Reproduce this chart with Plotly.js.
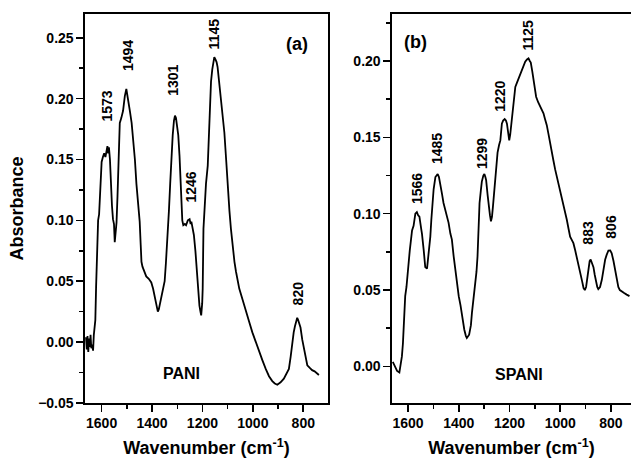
<!DOCTYPE html>
<html>
<head>
<meta charset="utf-8">
<script src="https://cdn.plot.ly/plotly-3.0.1.min.js"></script>
<style>html,body{margin:0;padding:0;background:#fff;}#chart{width:631px;height:465px;}</style>
</head>
<body>
<div id="chart"></div>
<script>
// Panel (a) PANI
const paniWavenumber = [1662,1659,1656,1653,1650,1647,1644,1641,1638,1634,1631,1628,1625,1622,1620,1617,1614,1610,1607,1603,1600,1595,1590,1585,1580,1577,1574,1571,1567,1563,1559,1555,1551,1548,1545,1541,1537,1532,1528,1522,1515,1508,1504,1502,1499,1495,1488,1481,1475,1468,1462,1455,1449,1445,1442,1438,1433,1428,1423,1413,1403,1396,1390,1385,1380,1377,1373,1368,1363,1356,1350,1345,1340,1337,1333,1328,1324,1318,1313,1309,1305,1300,1296,1291,1287,1284,1280,1276,1270,1265,1258,1251,1247,1244,1240,1234,1228,1225,1219,1215,1212,1208,1205,1201,1199,1196,1192,1186,1179,1175,1173,1169,1166,1161,1157,1153,1148,1144,1140,1135,1130,1126,1120,1113,1106,1100,1093,1087,1080,1073,1067,1060,1054,1041,1028,1015,1002,989,975,962,949,936,923,913,903,890,877,867,857,850,844,838,833,828,824,820,816,811,804,798,791,784,775,765,755,745,738];
const paniAbsorbance = [0.004,-0.006,0.005,-0.008,0.003,-0.004,0.006,-0.005,-0.002,-0.007,0.006,0.012,0.018,0.045,0.060,0.090,0.100,0.105,0.118,0.135,0.148,0.152,0.155,0.152,0.158,0.161,0.155,0.160,0.150,0.128,0.112,0.101,0.097,0.082,0.090,0.098,0.120,0.155,0.180,0.184,0.190,0.202,0.205,0.208,0.204,0.197,0.190,0.180,0.167,0.150,0.130,0.112,0.099,0.080,0.066,0.062,0.059,0.056,0.054,0.052,0.049,0.044,0.038,0.032,0.027,0.025,0.027,0.032,0.038,0.044,0.050,0.065,0.080,0.095,0.108,0.130,0.150,0.170,0.182,0.186,0.184,0.178,0.170,0.153,0.135,0.118,0.100,0.096,0.097,0.096,0.100,0.101,0.097,0.099,0.094,0.088,0.075,0.066,0.052,0.040,0.030,0.025,0.022,0.032,0.044,0.093,0.112,0.130,0.145,0.165,0.175,0.195,0.214,0.224,0.228,0.234,0.232,0.230,0.226,0.216,0.208,0.202,0.188,0.172,0.150,0.126,0.108,0.093,0.077,0.066,0.058,0.051,0.044,0.035,0.025,0.017,0.008,0.000,-0.008,-0.015,-0.022,-0.028,-0.032,-0.034,-0.035,-0.033,-0.030,-0.026,-0.022,-0.012,0.000,0.008,0.013,0.018,0.020,0.018,0.016,0.012,0.002,-0.005,-0.013,-0.019,-0.021,-0.023,-0.024,-0.026,-0.027];

// Panel (b) SPANI
const spaniWavenumber = [1660,1652,1643,1634,1628,1624,1620,1617,1611,1606,1601,1593,1584,1578,1571,1565,1560,1555,1548,1545,1538,1532,1525,1519,1512,1508,1499,1492,1483,1478,1473,1466,1460,1453,1446,1440,1433,1427,1420,1414,1407,1400,1393,1387,1378,1372,1368,1359,1352,1348,1341,1335,1330,1326,1322,1318,1313,1309,1303,1299,1295,1292,1286,1282,1277,1273,1269,1265,1260,1256,1251,1247,1241,1236,1230,1225,1219,1214,1210,1205,1201,1197,1194,1187,1182,1177,1170,1164,1157,1151,1144,1138,1131,1125,1120,1116,1110,1105,1095,1087,1079,1066,1060,1053,1046,1040,1033,1027,1020,1013,1006,1000,993,987,980,974,967,961,955,948,941,935,928,921,914,908,903,898,893,889,884,880,875,869,864,859,854,850,843,836,830,823,817,810,803,797,790,784,777,771,765,758,748,738,727];
const spaniAbsorbance = [0.003,0.000,-0.003,-0.004,0.001,0.0065,0.015,0.024,0.046,0.052,0.063,0.076,0.089,0.092,0.100,0.101,0.099,0.098,0.090,0.087,0.076,0.065,0.064,0.072,0.085,0.096,0.116,0.124,0.126,0.124,0.118,0.113,0.107,0.103,0.098,0.094,0.087,0.083,0.072,0.063,0.055,0.046,0.040,0.033,0.024,0.020,0.0186,0.0207,0.027,0.035,0.044,0.052,0.062,0.072,0.089,0.107,0.115,0.121,0.125,0.126,0.124,0.122,0.112,0.105,0.099,0.095,0.098,0.105,0.115,0.124,0.132,0.140,0.145,0.148,0.159,0.161,0.162,0.161,0.159,0.152,0.148,0.152,0.157,0.170,0.177,0.183,0.186,0.1886,0.192,0.195,0.197,0.1995,0.201,0.2017,0.200,0.199,0.193,0.1875,0.1766,0.173,0.170,0.1657,0.162,0.158,0.152,0.146,0.140,0.135,0.129,0.124,0.120,0.1156,0.111,0.107,0.101,0.096,0.090,0.085,0.083,0.0807,0.076,0.072,0.067,0.061,0.056,0.0513,0.050,0.052,0.058,0.065,0.069,0.070,0.068,0.065,0.060,0.0556,0.052,0.0506,0.052,0.0567,0.063,0.0698,0.073,0.0759,0.076,0.074,0.069,0.063,0.057,0.052,0.050,0.049,0.048,0.047,0.046];

// Peak labels
const paniPeakLabels = ["1573","1494","1301","1246","1145","820"];
const paniPeakX = [1580,1495,1315,1249,1153,821];
const paniPeakY = [0.194,0.235,0.215,0.127,0.253,0.040];
const spaniPeakLabels = ["1566","1485","1299","1220","1125","883","806"];
const spaniPeakX = [1565,1483,1309,1237,1125,891,801];
const spaniPeakY = [0.1167,0.1428,0.1396,0.1766,0.217,0.0875,0.0913];

const lineStyle = {color:'#000', width:1.8};
const traces = [
  {x: paniWavenumber, y: paniAbsorbance, xaxis:'x', yaxis:'y', type:'scatter', mode:'lines', line: lineStyle, hoverinfo:'skip'},
  {x: spaniWavenumber, y: spaniAbsorbance, xaxis:'x2', yaxis:'y2', type:'scatter', mode:'lines', line: lineStyle, hoverinfo:'skip'}
];

const tickFont = {family:'Arial, Liberation Sans', size:14, color:'#000', weight:'bold'};
const titleFont = {family:'Arial, Liberation Sans', size:18, color:'#000', weight:'bold'};

function xAxis(domain, range, anchor) {
  return {
    domain: domain, range: range, anchor: anchor,
    showline:true, linecolor:'#000', linewidth:1.6, mirror:true,
    ticks:'outside', ticklen:7, tickwidth:1.6, tickcolor:'#000',
    tick0:800, dtick:200, showgrid:false, zeroline:false,
    minor:{ticks:'outside', ticklen:4, tickwidth:1.4, tickcolor:'#000', dtick:100, tick0:800, showgrid:false},
    tickfont: tickFont,
    title:{text:'Wavenumber (cm<sup>-1</sup>)', font: titleFont, standoff: 11}
  };
}
function yAxis(range, anchor, title) {
  const a = {
    range: range, anchor: anchor,
    showline:true, linecolor:'#000', linewidth:1.6, mirror:true,
    ticks:'outside', ticklen:7, tickwidth:1.6, tickcolor:'#000',
    tick0:0, dtick:0.05, tickformat:'.2f', showgrid:false, zeroline:false,
    minor:{ticks:'outside', ticklen:4, tickwidth:1.4, tickcolor:'#000', dtick:0.025, tick0:0, showgrid:false},
    tickfont: tickFont
  };
  if (title) a.title = {text:title, font: titleFont, standoff: 10};
  return a;
}

const annotations = [];
const peakFont = {family:'Arial, Liberation Sans', size:14, color:'#000', weight:'bold'};
paniPeakLabels.forEach((t,i)=>annotations.push({xref:'x', yref:'y', x:paniPeakX[i], y:paniPeakY[i], text:t, textangle:-90, showarrow:false, font:peakFont}));
spaniPeakLabels.forEach((t,i)=>annotations.push({xref:'x2', yref:'y2', x:spaniPeakX[i], y:spaniPeakY[i], text:t, textangle:-90, showarrow:false, font:peakFont}));
const labelFont = {family:'Arial, Liberation Sans', size:18, color:'#000', weight:'bold'};
const nameFont = {family:'Arial, Liberation Sans', size:16, color:'#000', weight:'bold'};
annotations.push({xref:'x', yref:'y', x:825, y:0.245, text:'(a)', showarrow:false, font:labelFont});
annotations.push({xref:'x2', yref:'y2', x:1571, y:0.2126, text:'(b)', showarrow:false, font:labelFont});
annotations.push({xref:'x', yref:'y', x:1284, y:-0.026, text:'PANI', showarrow:false, font:nameFont});
annotations.push({xref:'x2', yref:'y2', x:1161, y:-0.0054, text:'SPANI', showarrow:false, font:nameFont});

const layout = {
  width:631, height:465,
  margin:{l:85, r:0, t:14, b:62},
  paper_bgcolor:'#fff', plot_bgcolor:'#fff',
  showlegend:false,
  font:{family:'Arial, Liberation Sans', color:'#000'},
  xaxis: xAxis([0, 0.445], [1666, 702], 'y'),
  yaxis: yAxis([-0.05, 0.2695], 'x', 'Absorbance'),
  xaxis2: xAxis([0.5623, 1], [1663, 721], 'y2'),
  yaxis2: yAxis([-0.024, 0.2308], 'x2', null),
  annotations: annotations
};

Plotly.newPlot('chart', traces, layout, {staticPlot:true, displayModeBar:false});
</script>
</body>
</html>
